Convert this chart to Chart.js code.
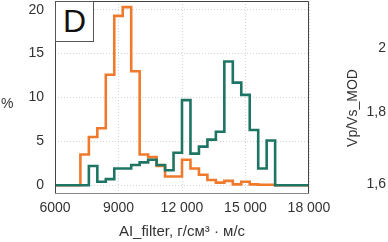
<!DOCTYPE html>
<html><head><meta charset="utf-8">
<script src="https://cdn.jsdelivr.net/npm/chart.js@4"></script>
<style>
body{margin:0;background:#fff;}
#wrap{position:relative;width:388px;height:242px;overflow:hidden;font-family:"Liberation Sans",Arial,sans-serif;color:#333;}
.t{position:absolute;font-size:14px;line-height:14px;white-space:nowrap;}
</style></head>
<body>
<div id="wrap">
<canvas id="c" width="388" height="242"></canvas>
<div class="t" style="left:55px;top:1px;width:37px;height:39px;border:1px solid #555;background:#fff;font-size:32px;line-height:39px;text-align:center;color:#111;">D</div>
<div class="t" style="left:1px;top:96px;">%</div>
<div class="t" style="right:2px;top:40px;">2</div>
<div class="t" style="right:2px;top:104px;">1,8</div>
<div class="t" style="right:2px;top:176px;">1,6</div>
<div class="t" style="left:352px;top:108px;transform:translate(-50%,-50%) rotate(-90deg);">Vp/Vs_MOD</div>
</div>
<script>
// bin left edges (AI_filter)
const binEdges = [7200,7600,8000,8400,8800,9200,9600,10000,10400,10800,11200,11600,12000,12400,12800,13200,13600,14000,14400,14800,15200,15600,16000,16400];
// percent per bin, orange series
const orangeValues = [3.5,5.5,6.5,12.6,19.3,20.3,13.0,3.5,3.2,2.2,1.0,1.0,2.9,1.9,1.2,0.6,0.3,0.5,0.1,0.4,0.1,0.05,0.05,0];
// percent per bin, teal series
const greenValues = [0,2.2,0.4,0.7,1.9,1.9,2.3,2.6,2.9,2.3,1.7,3.7,9.7,3.6,4.4,5.2,6.1,14.1,11.7,10.3,6.3,1.9,5.1,0];
const xTicks = [6000,9000,12000,15000,18000];
const xTickLabels = ['6000','9000','12 000','15 000','18 000'];
const yTicks = [0,5,10,15,20];
const xMin = 6000, xMax = 18000, yMin = -1, yMax = 21;

function pts(vals){
  const p=[{x:xMin,y:0}];
  binEdges.forEach((e,i)=>p.push({x:e,y:vals[i]}));
  p.push({x:xMax,y:0});
  return p;
}
const frame = {
  id:'frame',
  afterDatasetsDraw(chart){
    const {ctx,chartArea:a}=chart;
    ctx.save();
    ctx.lineWidth=1;
    ctx.strokeStyle='#444';
    ctx.beginPath();
    ctx.moveTo(a.left+0.5,a.bottom);ctx.lineTo(a.left+0.5,a.top+0.5);ctx.lineTo(a.right-0.5,a.top+0.5);ctx.lineTo(a.right-0.5,a.bottom);
    ctx.stroke();
    ctx.strokeStyle='#888';
    ctx.beginPath();ctx.moveTo(a.left,a.bottom-0.5);ctx.lineTo(a.right,a.bottom-0.5);ctx.stroke();
    ctx.restore();
  }
};
const font={family:'"Liberation Sans", Arial, sans-serif',size:14};
new Chart(document.getElementById('c'),{
  type:'line',
  data:{datasets:[
    {data:pts(greenValues),borderColor:'#1f7563',borderWidth:2.6,stepped:'before',pointRadius:0,fill:false},
    {data:pts(orangeValues),borderColor:'#ef7a2c',borderWidth:2.6,stepped:'before',pointRadius:0,fill:false}
  ]},
  options:{
    responsive:false,animation:false,devicePixelRatio:1,
    layout:{padding:{left:0,right:79,top:1,bottom:0}},
    plugins:{legend:{display:false},tooltip:{enabled:false}},
    scales:{
      x:{type:'linear',min:xMin,max:xMax,
        afterBuildTicks(s){s.ticks=xTicks.map(v=>({value:v}));},
        afterFit(s){s.height=48;s.paddingLeft=0;s.paddingRight=0;},
        ticks:{font,color:'#333',padding:6,maxRotation:0,autoSkip:false,
          callback:(v)=>{const i=xTicks.indexOf(v);return i>=0?xTickLabels[i]:'';}},
        grid:{color:'#d4d4d4',drawTicks:false,lineWidth:1},
        border:{display:false,dash:[1,2]},
        title:{display:true,text:'AI_filter, г/см³ · м/с',font:{family:font.family,size:15},color:'#333',padding:{top:0,bottom:1}}
      },
      y:{type:'linear',min:yMin,max:yMax,
        afterBuildTicks(s){s.ticks=yTicks.map(v=>({value:v}));},
        afterFit(s){s.width=55;s.paddingTop=0;s.paddingBottom=0;},
        ticks:{font,color:'#333',padding:11},
        grid:{color:'#d4d4d4',drawTicks:false,lineWidth:1},
        border:{display:false,dash:[1,2]}
      }
    }
  },
  plugins:[frame]
});
</script>
</body></html>
